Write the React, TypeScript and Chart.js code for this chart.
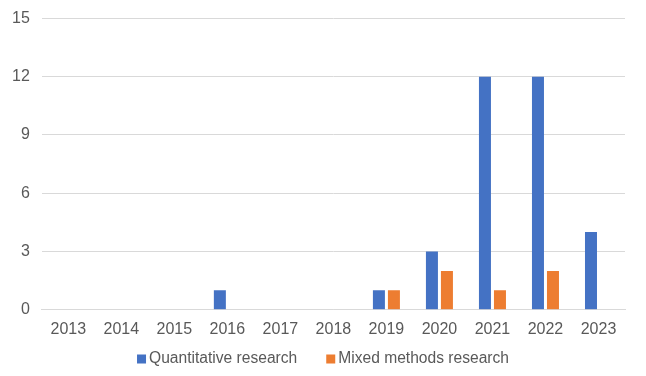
import React, { useEffect, useRef } from "react";
import { Chart, registerables } from "chart.js";

Chart.register(...registerables);

const categories = ["2013", "2014", "2015", "2016", "2017", "2018", "2019", "2020", "2021", "2022", "2023"];
const quantitative = [0, 0, 0, 1, 0, 0, 1, 3, 12, 12, 4];
const mixed = [0, 0, 0, 0, 0, 0, 1, 2, 1, 2, 0];
const yTicks = [0, 3, 6, 9, 12, 15];

const FONT_FAMILY = "'Liberation Sans', Arial, sans-serif";

const bottomLegend = {
  id: "bottomLegend",
  afterDraw(chart: any) {
    const ctx = chart.ctx;
    ctx.save();
    ctx.font = `15.6px ${FONT_FAMILY}`;
    ctx.textBaseline = "middle";
    ctx.textAlign = "left";
    const box = 9;
    const gap = 3;
    const spacing = 29;
    const items = chart.data.datasets.map((d: any) => ({
      text: d.label,
      color: d.backgroundColor,
      w: box + gap + ctx.measureText(d.label).width,
    }));
    const total = items.reduce((s: number, it: any) => s + it.w, 0) + spacing * (items.length - 1);
    let x = (chart.width - total) / 2;
    const y = 359;
    for (const it of items) {
      ctx.fillStyle = it.color;
      ctx.fillRect(x, y - 4.5, box, box);
      ctx.fillStyle = "#595959";
      ctx.fillText(it.text, x + box + gap, y);
      x += it.w + spacing;
    }
    ctx.restore();
  },
};

export default function App() {
  const ref = useRef<HTMLCanvasElement | null>(null);
  useEffect(() => {
    if (!ref.current) return;
    const font = { family: FONT_FAMILY, size: 16 };
    const chart = new Chart(ref.current, {
      type: "bar",
      data: {
        labels: categories,
        datasets: [
          { label: "Quantitative research", data: quantitative, backgroundColor: "#4472C4", categoryPercentage: 0.566, barPercentage: 0.8 },
          { label: "Mixed methods research", data: mixed, backgroundColor: "#ED7D31", categoryPercentage: 0.566, barPercentage: 0.8 },
        ],
      },
      options: {
        animation: false,
        responsive: false,
        layout: { padding: { top: 0, right: 21, left: 0, bottom: 35 } },
        plugins: {
          tooltip: { enabled: false },
          legend: { display: false },
        },
        scales: {
          x: {
            grid: { display: false },
            border: { color: "#d9d9d9" },
            ticks: { color: "#595959", font, padding: 2 },
          },
          y: {
            min: 0,
            max: 15,
            afterBuildTicks: (axis: any) => {
              axis.ticks = yTicks.map((v) => ({ value: v }));
            },
            grid: { color: "#d9d9d9", drawTicks: false },
            border: { display: false },
            ticks: { color: "#595959", font: { ...font, lineHeight: 0.8 }, padding: 12 },
          },
        },
      },
      plugins: [bottomLegend],
    });
    return () => chart.destroy();
  }, []);
  return (
    <div style={{ position: "fixed", left: 0, top: 0, width: 646, height: 376, background: "#fff" }}>
      <canvas ref={ref} width={646} height={376} />
    </div>
  );
}
